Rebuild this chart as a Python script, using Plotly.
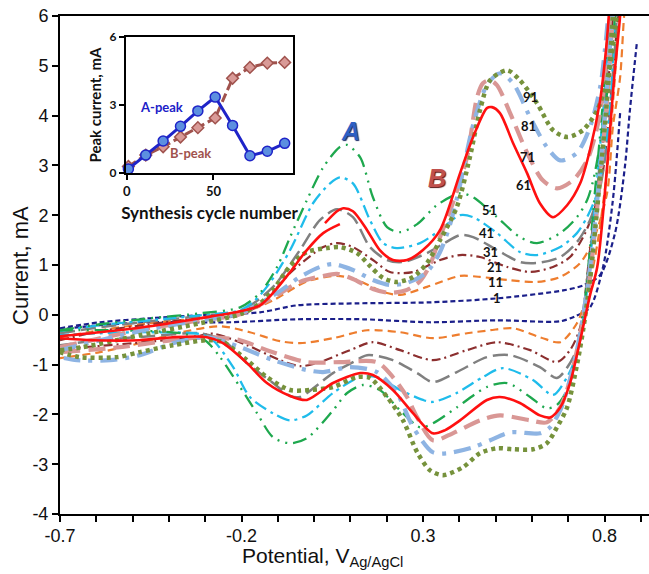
import plotly.graph_objects as go

# ---------------- main chart data (potential V vs Ag/AgCl, current mA) ----------------
c1_fwd_v = [-0.70,-0.590,-0.452,-0.314,-0.149,-0.047,0.118,0.319,0.504,0.686,0.741,0.788,0.829,0.856,0.870,0.889]
c1_fwd_i = [-0.27,-0.15,-0.07,-0.01,0.05,0.19,0.23,0.25,0.33,0.49,0.59,0.80,1.64,2.96,4.11,5.45]
c1_rev_v = [0.843,0.823,0.796,0.760,0.719,0.678,0.504,0.319,0.135,-0.047,-0.232,-0.452,-0.590,-0.70]
c1_rev_i = [4.05,2.30,0.96,0.15,-0.03,-0.13,-0.11,-0.15,-0.09,-0.09,-0.15,-0.15,-0.21,-0.29]

c11_fwd_v = [-0.70,-0.590,-0.452,-0.314,-0.204,-0.113,-0.020,0.063,0.118,0.190,0.237,0.311,0.402,0.457,0.532,0.614,0.678,0.733,0.769,0.807,0.823,0.843,0.854,0.859]
c11_fwd_i = [-0.45,-0.31,-0.17,-0.07,0.03,0.29,0.67,0.78,0.70,0.46,0.40,0.56,0.78,0.76,0.70,0.66,0.76,1.04,1.50,2.44,3.77,4.77,6.0,6.3]
c11_rev_v = [0.843,0.840,0.826,0.807,0.782,0.755,0.724,0.678,0.622,0.548,0.485,0.421,0.327,0.237,0.146,0.052,-0.039,-0.094,-0.177,-0.259,-0.378,-0.480,-0.590,-0.70]
c11_rev_i = [6.3,6.0,4.51,2.90,1.50,0.50,-0.17,-0.55,-0.45,-0.27,-0.31,-0.37,-0.47,-0.35,-0.31,-0.47,-0.57,-0.53,-0.35,-0.23,-0.37,-0.57,-0.75,-0.87]

c21_fwd_v = [-0.70,-0.590,-0.452,-0.314,-0.204,-0.135,-0.066,0.025,0.063,0.107,0.162,0.209,0.273,0.347,0.402,0.457,0.532,0.595,0.658,0.705,0.741,0.769,0.793,0.810,0.826,0.837,0.840]
c21_fwd_i = [-0.51,-0.33,-0.19,-0.07,-0.01,0.29,0.84,1.36,1.44,1.36,1.10,0.86,0.86,1.10,1.20,1.16,0.96,0.86,0.96,1.16,1.56,2.04,2.76,3.77,5.11,6.0,6.3]
c21_rev_v = [0.826,0.823,0.807,0.782,0.760,0.733,0.705,0.669,0.595,0.504,0.421,0.327,0.237,0.162,0.099,0.008,-0.039,-0.094,-0.185,-0.279,-0.334,-0.499,-0.70]
c21_rev_i = [6.3,6.0,4.31,2.60,1.30,-0.25,-0.71,-0.95,-0.71,-0.55,-0.71,-0.91,-0.71,-0.55,-0.71,-0.97,-1.03,-0.91,-0.61,-0.38,-0.45,-0.57,-0.69]

c31_fwd_v = [-0.70,-0.590,-0.452,-0.314,-0.204,-0.113,-0.039,0.016,0.063,0.107,0.154,0.201,0.245,0.311,0.355,0.402,0.438,0.504,0.567,0.614,0.678,0.724,0.760,0.788,0.807,0.823,0.834,0.837]
c31_fwd_i = [-0.37,-0.25,-0.13,-0.03,0.07,0.56,1.30,1.90,2.12,1.96,1.36,1.10,1.06,1.24,1.42,1.60,1.56,1.30,1.06,1.04,1.16,1.46,1.90,2.56,3.45,4.71,6.0,6.3]
c31_rev_v = [0.821,0.818,0.801,0.780,0.755,0.733,0.705,0.669,0.622,0.540,0.476,0.393,0.327,0.284,0.217,0.146,0.107,0.052,-0.039,-0.066,-0.113,-0.185,-0.251,-0.314,-0.452,-0.590,-0.70]
c31_rev_i = [6.3,6.0,4.31,2.50,0.90,-0.51,-0.97,-1.27,-1.05,-0.81,-0.85,-1.15,-1.35,-1.17,-0.91,-0.81,-0.95,-1.17,-1.65,-1.63,-1.37,-0.97,-0.51,-0.37,-0.43,-0.51,-0.61]

c41_fwd_v = [-0.70,-0.590,-0.452,-0.314,-0.204,-0.163,-0.122,-0.066,-0.003,0.044,0.071,0.107,0.154,0.190,0.228,0.292,0.347,0.402,0.438,0.504,0.567,0.614,0.678,0.724,0.752,0.780,0.796,0.815,0.829,0.832]
c41_fwd_i = [-0.33,-0.21,-0.11,-0.01,0.09,0.29,0.64,1.30,2.24,2.64,2.76,2.64,1.90,1.44,1.34,1.44,1.70,2.00,1.96,1.64,1.26,1.20,1.36,1.64,1.96,2.44,3.10,4.11,6.0,6.3]
c41_rev_v = [0.818,0.815,0.799,0.777,0.752,0.724,0.697,0.658,0.603,0.520,0.465,0.393,0.327,0.300,0.237,0.173,0.127,0.052,-0.020,-0.066,-0.113,-0.177,-0.223,-0.279,-0.314,-0.452,-0.590,-0.70]
c41_rev_i = [6.3,6.0,4.31,2.50,0.50,-0.77,-1.25,-1.61,-1.31,-1.07,-1.25,-1.57,-1.75,-1.71,-1.51,-1.25,-1.25,-1.57,-2.02,-2.12,-1.98,-1.65,-1.05,-0.51,-0.39,-0.35,-0.37,-0.41]

c51_fwd_v = [-0.70,-0.590,-0.452,-0.314,-0.204,-0.149,-0.102,-0.066,-0.020,0.025,0.071,0.091,0.127,0.162,0.201,0.237,0.284,0.338,0.402,0.438,0.504,0.567,0.614,0.678,0.724,0.752,0.769,0.788,0.807,0.821,0.829,0.832]
c51_fwd_i = [-0.31,-0.19,-0.07,0.03,0.15,0.44,0.96,1.56,2.30,2.96,3.37,3.41,3.16,2.36,1.76,1.66,1.82,2.20,2.44,2.36,1.96,1.56,1.44,1.64,1.96,2.30,2.70,3.45,4.45,5.31,6.0,6.3]
c51_rev_v = [0.815,0.812,0.796,0.774,0.746,0.719,0.697,0.669,0.641,0.595,0.532,0.476,0.393,0.327,0.292,0.237,0.181,0.135,0.091,0.052,-0.020,-0.066,-0.113,-0.157,-0.204,-0.259,-0.301,-0.369,-0.535,-0.70]
c51_rev_i = [6.3,6.0,4.31,2.50,0.29,-0.91,-1.51,-1.81,-1.88,-1.65,-1.37,-1.45,-1.86,-2.18,-2.26,-1.92,-1.51,-1.41,-1.57,-1.92,-2.48,-2.58,-2.46,-1.98,-1.45,-0.85,-0.51,-0.37,-0.31,-0.31]

c61_fwd_v = [-0.70,-0.590,-0.452,-0.314,-0.204,-0.149,-0.113,-0.066,-0.020,0.025,0.071]
c61_fwd_i = [-0.43,-0.35,-0.23,-0.07,0.07,0.19,0.44,0.86,1.30,1.64,1.82]
c61_fwd2_v = [0.030,0.063,0.080,0.107,0.146,0.181,0.217,0.256,0.300,0.347,0.402,0.438,0.476,0.490,0.512,0.548,0.587,0.622,0.658,0.697,0.733,0.760,0.788,0.804,0.812,0.815]
c61_fwd2_i = [1.84,2.08,2.14,2.08,1.70,1.30,1.10,1.10,1.30,1.70,2.84,3.57,4.15,4.17,4.05,3.45,2.84,2.24,1.96,2.20,2.64,3.31,4.31,5.31,6.0,6.3]
c61_rev_v = [0.845,0.843,0.826,0.807,0.780,0.760,0.733,0.705,0.678,0.650,0.622,0.567,0.512,0.476,0.402,0.360,0.327,0.273,0.217,0.162,0.127,0.052,-0.020,-0.066,-0.130,-0.185,-0.251,-0.295,-0.389,-0.480,-0.609,-0.70]
c61_rev_i = [6.3,6.0,4.71,2.96,0.96,0.39,-0.51,-1.37,-1.86,-2.06,-2.02,-1.77,-1.65,-1.71,-2.12,-2.32,-2.38,-1.98,-1.51,-1.21,-1.17,-1.37,-1.71,-1.63,-1.37,-0.97,-0.57,-0.45,-0.45,-0.51,-0.51,-0.47]

c71_fwd_v = [-0.70,-0.590,-0.452,-0.314,-0.204,-0.113,-0.039,0.025,0.063,0.107,0.162,0.209,0.256,0.292,0.319,0.347,0.382,0.421,0.449,0.465,0.485,0.504,0.540,0.587,0.630,0.669,0.713,0.752,0.780,0.796,0.810,0.815,0.818]
c71_fwd_i = [-0.65,-0.47,-0.27,-0.11,0.01,0.35,0.66,0.78,0.82,0.72,0.52,0.44,0.50,0.68,1.00,1.56,2.24,3.16,4.37,4.65,4.71,4.61,4.05,3.25,2.70,2.54,2.70,3.10,3.77,4.45,5.51,6.0,6.3]
c71_rev_v = [0.826,0.823,0.807,0.782,0.755,0.727,0.705,0.678,0.641,0.595,0.512,0.457,0.382,0.327,0.284,0.256,0.217,0.173,0.071,-0.020,-0.130,-0.204,-0.295,-0.389,-0.535,-0.70]
c71_rev_i = [6.3,6.0,4.31,2.30,0.50,-0.61,-1.31,-1.86,-2.16,-2.12,-2.02,-2.12,-2.38,-2.52,-2.06,-1.65,-1.25,-0.95,-0.95,-0.95,-0.71,-0.51,-0.45,-0.51,-0.65,-0.75]

c81_fwd_v = [-0.70,-0.590,-0.452,-0.314,-0.204,-0.102,-0.039,0.016,0.052,0.107,0.162,0.209,0.256,0.311,0.347,0.374,0.402,0.438,0.476,0.512,0.548,0.595,0.641,0.678,0.724,0.760,0.788,0.801,0.810,0.812]
c81_fwd_i = [-0.71,-0.51,-0.29,-0.11,0.03,0.44,0.76,0.96,1.02,0.90,0.70,0.60,0.64,0.86,1.26,1.80,2.60,3.81,4.61,4.85,4.65,3.97,3.37,3.10,3.25,3.77,4.57,5.31,6.0,6.3]
c81_rev_v = [0.823,0.821,0.804,0.780,0.752,0.724,0.697,0.678,0.650,0.622,0.540,0.485,0.438,0.366,0.327,0.273,0.228,0.173,0.099,0.025,-0.020,-0.113,-0.204,-0.295,-0.389,-0.480,-0.562,-0.653,-0.70]
c81_rev_i = [6.3,6.0,4.31,2.30,0.50,-0.71,-1.51,-1.92,-2.26,-2.38,-2.36,-2.52,-2.66,-2.78,-2.76,-2.26,-1.57,-1.15,-1.05,-1.15,-1.11,-0.91,-0.65,-0.45,-0.57,-0.81,-0.91,-0.91,-0.85]

c91_fwd_v = [-0.70,-0.637,-0.480,-0.314,-0.204,-0.149,-0.113,-0.066,-0.020,0.036,0.071,0.118,0.154,0.190,0.228,0.273,0.311,0.347,0.393,0.429,0.457,0.485,0.532,0.567,0.614,0.658,0.697,0.741,0.780,0.807,0.823,0.834,0.837]
c91_fwd_i = [-0.71,-0.65,-0.41,-0.17,0.01,0.23,0.50,0.98,1.26,1.34,1.36,1.24,0.98,0.74,0.66,0.76,1.04,1.50,2.16,3.16,4.11,4.71,4.91,4.71,4.25,3.71,3.57,3.71,4.11,4.71,5.37,6.0,6.3]
c91_rev_v = [0.826,0.823,0.807,0.782,0.760,0.741,0.724,0.697,0.669,0.641,0.603,0.548,0.504,0.457,0.410,0.355,0.319,0.284,0.245,0.201,0.154,0.118,0.052,-0.011,-0.066,-0.130,-0.185,-0.251,-0.295,-0.389,-0.480,-0.543,-0.645,-0.70]
c91_rev_i = [6.3,6.0,4.31,2.30,0.70,-0.31,-1.01,-1.86,-2.26,-2.58,-2.70,-2.70,-2.68,-2.78,-3.06,-3.22,-3.12,-2.76,-2.12,-1.65,-1.27,-1.25,-1.45,-1.51,-1.51,-1.25,-0.91,-0.55,-0.51,-0.61,-0.75,-0.85,-0.85,-0.75]

# cycle label positions (V, mA)
cycle_labels = ["91", "81", "71", "61", "51", "41", "31", "21", "11", "1"]
cycle_label_v = [0.595, 0.592, 0.587, 0.578, 0.482, 0.476, 0.485, 0.496, 0.501, 0.504]
cycle_label_i = [4.37, 3.79, 3.16, 2.60, 2.10, 1.64, 1.26, 0.95, 0.65, 0.33]

# axis ticks
x_tickvals = [-0.7, -0.2, 0.3, 0.8]
x_ticktext = ["-0.7", "-0.2", "0.3", "0.8"]
y_tickvals = [6, 5, 4, 3, 2, 1, 0, -1, -2, -3, -4]
y_ticktext = ["6", "5", "4", "3", "2", "1", "0", "-1", "-2", "-3", "-4"]

# ---------------- inset data ----------------
cycle_nums = [1, 11, 21, 31, 41, 51, 61, 71, 81, 91]
a_peak = [0.18, 0.79, 1.41, 2.06, 2.74, 3.35, 2.10, 0.76, 0.96, 1.31]
b_peak = [0.29, 0.79, 1.16, 1.59, 2.00, 2.43, 4.18, 4.66, 4.85, 4.88]

# ---------------- styles ----------------
styles = {
    1:  dict(color="#1B1F8A", width=2.2, dash="5px,3px"),
    11: dict(color="#EE7D2E", width=2.2, dash="8px,5px"),
    21: dict(color="#8C2F2F", width=2.2, dash="9px,4px,2px,4px"),
    31: dict(color="#808080", width=2.5, dash="15px,6px"),
    41: dict(color="#1FBCEB", width=2.3, dash="13px,5px,3px,5px"),
    51: dict(color="#1EA84E", width=2.3, dash="14px,6px,2px,6px,2px,6px"),
    61: dict(color="#FF1010", width=2.6, dash="solid"),
    71: dict(color="#D99795", width=4.2, dash="17px,8px"),
    81: dict(color="#8EB4E3", width=4.2, dash="17px,8px,4px,8px"),
    91: dict(color="#76923C", width=4.5, dash="4px,4px"),
}

segments = [
    (1, c1_fwd_v, c1_fwd_i), (1, c1_rev_v, c1_rev_i),
    (11, c11_fwd_v, c11_fwd_i), (11, c11_rev_v, c11_rev_i),
    (21, c21_fwd_v, c21_fwd_i), (21, c21_rev_v, c21_rev_i),
    (31, c31_fwd_v, c31_fwd_i), (31, c31_rev_v, c31_rev_i),
    (41, c41_fwd_v, c41_fwd_i), (41, c41_rev_v, c41_rev_i),
    (51, c51_fwd_v, c51_fwd_i), (51, c51_rev_v, c51_rev_i),
    (71, c71_fwd_v, c71_fwd_i), (71, c71_rev_v, c71_rev_i),
    (81, c81_fwd_v, c81_fwd_i), (81, c81_rev_v, c81_rev_i),
    (91, c91_fwd_v, c91_fwd_i), (91, c91_rev_v, c91_rev_i),
    (61, c61_fwd_v, c61_fwd_i), (61, c61_fwd2_v, c61_fwd2_i), (61, c61_rev_v, c61_rev_i),
]

fig = go.Figure()
for cyc, xv, yv in segments:
    st = styles[cyc]
    fig.add_trace(go.Scatter(
        x=xv, y=yv, mode="lines", showlegend=False, hoverinfo="skip",
        line=dict(color=st["color"], width=st["width"], dash=st["dash"],
                  shape="spline", smoothing=0.8),
        xaxis="x", yaxis="y"))

# inset traces
fig.add_trace(go.Scatter(
    x=cycle_nums, y=b_peak, mode="lines+markers", showlegend=False,
    line=dict(color="#A0524D", width=3, dash="9px,4px"),
    marker=dict(symbol="diamond", size=9, color="#D99A97",
                line=dict(color="#A0524D", width=1.5)),
    xaxis="x2", yaxis="y2", cliponaxis=False))
fig.add_trace(go.Scatter(
    x=cycle_nums, y=a_peak, mode="lines+markers", showlegend=False,
    line=dict(color="#1F24C8", width=3),
    marker=dict(symbol="circle", size=10, color="#5C8FE0",
                line=dict(color="#1F24C8", width=1.5)),
    xaxis="x2", yaxis="y2", cliponaxis=False))

sans = "Liberation Sans, Arial"
bold_f = "Lato, Open Sans, Liberation Sans"

annotations = []
for t, xv, yv in zip(cycle_labels, cycle_label_v, cycle_label_i):
    annotations.append(dict(x=xv, y=yv, xref="x", yref="y", text="<b>%s</b>" % t,
                            showarrow=False, font=dict(family=bold_f, size=13, color="#111111")))
annotations += [
    dict(x=0.099, y=3.69, xref="x", yref="y", text="<b><i>A</i></b>", showarrow=False,
         font=dict(family=sans, size=25, color="#2D5FC4", shadow="1px 1px 1px #1a2a66")),
    dict(x=0.338, y=2.74, xref="x", yref="y", text="<b><i>B</i></b>", showarrow=False,
         font=dict(family=sans, size=25, color="#C0504D", shadow="1px 1px 1px #5a1515")),
    dict(x=19.8, y=2.92, xref="x2", yref="y2", text="<b>A-peak</b>", showarrow=False,
         font=dict(family=bold_f, size=13, color="#2020C8")),
    dict(x=36.5, y=0.9, xref="x2", yref="y2", text="<b>B-peak</b>", showarrow=False,
         font=dict(family=bold_f, size=13, color="#A0524D")),
    dict(x=0.4465, y=-0.086, xref="paper", yref="paper",
         text="Potential, V<sub>Ag/AgCl</sub>", showarrow=False,
         xanchor="center", yanchor="middle",
         font=dict(family=sans, size=21, color="#111111")),
    dict(x=-0.068, y=0.5, xref="paper", yref="paper", text="Current, mA",
         showarrow=False, textangle=-90, xanchor="center", yanchor="middle",
         font=dict(family=sans, size=22, color="#111111")),
]

fig.update_layout(
    width=649, height=574,
    margin=dict(l=60, r=0, t=16, b=60),
    paper_bgcolor="white", plot_bgcolor="white",
    showlegend=False,
    xaxis=dict(range=[-0.7, 0.9226], tickmode="array", tickvals=x_tickvals, ticktext=x_ticktext,
               showgrid=False, zeroline=False, showline=True, linecolor="black", linewidth=2,
               mirror=True, ticks="outside", ticklen=6, tickwidth=2, tickcolor="black",
               minor=dict(tickmode="linear", tick0=-0.7, dtick=0.1, ticks="outside",
                          ticklen=6, tickwidth=2, tickcolor="black", showgrid=False),
               tickfont=dict(family=sans, size=18, color="#111111"),
               ticklabelstandoff=-2, domain=[0, 1]),
    yaxis=dict(range=[-4, 6], tickmode="array", tickvals=y_tickvals, ticktext=y_ticktext,
               showgrid=False, zeroline=False, showline=True, linecolor="black", linewidth=2,
               ticks="outside", ticklen=6, tickwidth=2, tickcolor="black",
               tickfont=dict(family=sans, size=18, color="#111111"),
               domain=[0, 1]),
    xaxis2=dict(domain=[0.112, 0.3956], anchor="y2", range=[-0.4, 95.8],
                tickmode="array", tickvals=[0, 50], ticktext=["0", "50"],
                showgrid=False, zeroline=False, showline=True, linecolor="black",
                linewidth=2, mirror=True, ticks="outside", ticklen=5, tickwidth=2,
                tickcolor="black",
                tickfont=dict(family=bold_f, size=13, color="#111111", weight="bold"),
                title=dict(text="<b>Synthesis cycle number</b>", standoff=9,
                           font=dict(family=bold_f, size=17, color="#111111"))),
    yaxis2=dict(domain=[0.6847, 0.9578], anchor="x2", range=[0, 6],
                tickmode="array", tickvals=[0, 3, 6], ticktext=["0", "3", "6"],
                showgrid=False, zeroline=False, showline=True, linecolor="black",
                linewidth=2, mirror=True, ticks="outside", ticklen=5, tickwidth=2,
                tickcolor="black",
                tickfont=dict(family=bold_f, size=12, color="#111111", weight="bold"),
                title=dict(text="<b>Peak current, mA</b>", standoff=4,
                           font=dict(family=bold_f, size=15, color="#111111"))),
    annotations=annotations,
)

fig.write_html("out.html")
